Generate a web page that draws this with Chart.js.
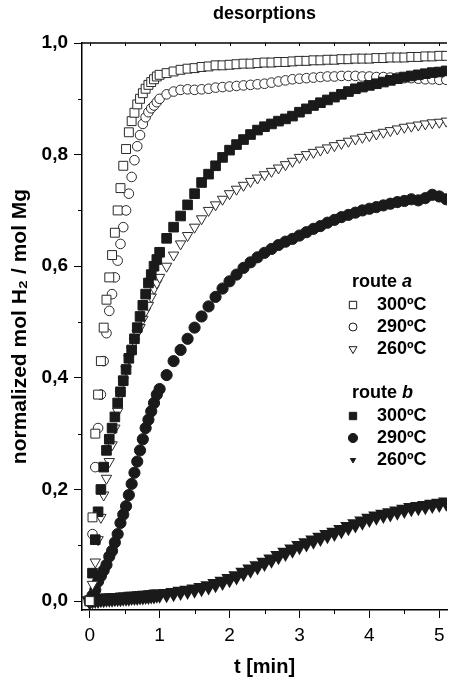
<!DOCTYPE html>
<html>
<head>
<meta charset="utf-8">
<script src="https://cdn.jsdelivr.net/npm/chart.js@4.4.1/dist/chart.umd.min.js"></script>
<style>
  html, body { margin: 0; padding: 0; background: #fff; }
  canvas { display: block; }
</style>
</head>
<body>
<canvas id="chart" width="457" height="679"></canvas>
<script>
// time in minutes (denser sampling during the fast first minute)
const time = [0, 0.04, 0.08, 0.12, 0.16, 0.2, 0.24, 0.28, 0.32, 0.36, 0.4, 0.44, 0.48, 0.52, 0.56, 0.6, 0.64, 0.68, 0.72, 0.76, 0.8, 0.84, 0.88, 0.92, 0.96, 1.0,
  1.1, 1.2, 1.3, 1.4, 1.5, 1.6, 1.7, 1.8, 1.9, 2.0,
  2.1, 2.2, 2.3, 2.4, 2.5, 2.6, 2.7, 2.8, 2.9, 3.0,
  3.1, 3.2, 3.3, 3.4, 3.5, 3.6, 3.7, 3.8, 3.9, 4.0,
  4.1, 4.2, 4.3, 4.4, 4.5, 4.6, 4.7, 4.8, 4.9, 5.0, 5.1];

const routeA300 = [0, 0.15, 0.30, 0.37, 0.43, 0.49, 0.54, 0.58, 0.62, 0.66, 0.70, 0.74, 0.78, 0.81, 0.84, 0.86, 0.875, 0.89, 0.90, 0.91, 0.918, 0.925, 0.93, 0.935, 0.94, 0.943,
  0.946, 0.949, 0.952, 0.954, 0.955, 0.957, 0.958, 0.96, 0.96, 0.961,
  0.962, 0.963, 0.963, 0.964, 0.965, 0.965, 0.966, 0.966, 0.967, 0.968,
  0.968, 0.969, 0.969, 0.97, 0.97, 0.971, 0.971, 0.972, 0.972, 0.972,
  0.973, 0.973, 0.974, 0.974, 0.974, 0.975, 0.975, 0.976, 0.976, 0.977, 0.977];
const routeA290 = [0, 0.12, 0.24, 0.31, 0.37, 0.43, 0.48, 0.52, 0.55, 0.58, 0.61, 0.64, 0.67, 0.70, 0.73, 0.76, 0.79, 0.815, 0.835, 0.855, 0.867, 0.876, 0.883, 0.888, 0.894, 0.90,
  0.908, 0.913, 0.916, 0.917, 0.916, 0.917, 0.918, 0.92, 0.921, 0.922,
  0.923, 0.924, 0.925, 0.926, 0.927, 0.929, 0.931, 0.933, 0.935, 0.936,
  0.937, 0.938, 0.939, 0.94, 0.94, 0.941, 0.941, 0.941, 0.94, 0.94,
  0.939, 0.939, 0.938, 0.938, 0.937, 0.937, 0.936, 0.935, 0.935, 0.934, 0.934];
const routeA260 = [0, 0.03, 0.07, 0.11, 0.15, 0.19, 0.22, 0.25, 0.28, 0.31, 0.34, 0.37, 0.395, 0.415, 0.435, 0.45, 0.465, 0.48, 0.49, 0.505, 0.52, 0.53, 0.545, 0.56, 0.57, 0.58,
  0.60, 0.62, 0.64, 0.655, 0.67, 0.685, 0.70, 0.71, 0.72, 0.73,
  0.738, 0.745, 0.752, 0.758, 0.764, 0.77, 0.776, 0.782, 0.788, 0.795,
  0.80, 0.804, 0.808, 0.812, 0.816, 0.82, 0.824, 0.828, 0.831, 0.834,
  0.837, 0.84, 0.843, 0.846, 0.849, 0.851, 0.853, 0.855, 0.857, 0.858, 0.86];
const routeB300 = [0, 0.05, 0.11, 0.16, 0.20, 0.24, 0.27, 0.29, 0.31, 0.33, 0.355, 0.375, 0.395, 0.415, 0.435, 0.45, 0.47, 0.49, 0.51, 0.53, 0.55, 0.57, 0.585, 0.60, 0.612, 0.625,
  0.65, 0.67, 0.69, 0.71, 0.73, 0.75, 0.765, 0.78, 0.795, 0.808,
  0.818, 0.827, 0.836, 0.844, 0.85, 0.855, 0.86, 0.864, 0.869, 0.876,
  0.882, 0.888, 0.893, 0.898, 0.903, 0.908, 0.913, 0.918, 0.921, 0.924,
  0.927, 0.93, 0.933, 0.936, 0.939, 0.941, 0.943, 0.945, 0.947, 0.948, 0.95];
const routeB290 = [0, 0.01, 0.02, 0.035, 0.045, 0.055, 0.065, 0.08, 0.09, 0.105, 0.12, 0.14, 0.155, 0.17, 0.19, 0.21, 0.23, 0.25, 0.27, 0.29, 0.31, 0.325, 0.34, 0.355, 0.37, 0.38,
  0.405, 0.43, 0.45, 0.47, 0.49, 0.51, 0.528, 0.545, 0.56, 0.573,
  0.585, 0.597, 0.607, 0.616, 0.624, 0.631, 0.638, 0.644, 0.649, 0.655,
  0.661, 0.667, 0.672, 0.678, 0.683, 0.688, 0.692, 0.696, 0.70, 0.703,
  0.706, 0.709, 0.712, 0.715, 0.717, 0.72, 0.718, 0.722, 0.728, 0.725, 0.72];
const routeB260 = [0, 0.002, 0.003, 0.003, 0.004, 0.004, 0.005, 0.005, 0.005, 0.006, 0.006, 0.006, 0.007, 0.007, 0.007, 0.008, 0.008, 0.008, 0.009, 0.009, 0.01, 0.01, 0.011, 0.011, 0.012, 0.012,
  0.013, 0.015, 0.017, 0.019, 0.021, 0.024, 0.027, 0.031, 0.035, 0.04,
  0.045, 0.051, 0.057, 0.063, 0.069, 0.075, 0.081, 0.087, 0.093, 0.099,
  0.104, 0.109, 0.114, 0.119, 0.123, 0.128, 0.133, 0.138, 0.143, 0.148,
  0.152, 0.155, 0.158, 0.161, 0.164, 0.167, 0.169, 0.171, 0.173, 0.175, 0.177];

const xTicks = [0, 0.5, 1, 1.5, 2, 2.5, 3, 3.5, 4, 4.5, 5];
const yTicks = [0, 0.1, 0.2, 0.3, 0.4, 0.5, 0.6, 0.7, 0.8, 0.9, 1.0];
const routeNames = ['a', 'b'];
const tempLabels = ['300ºC', '290ºC', '260ºC'];

const FONT = "'Liberation Sans', Arial, sans-serif";
const INK = '#1a1a1a';

function pts(vals) {
  return time.map((t, i) => ({ x: t, y: vals[i] }));
}

const isMajorY = v => Math.round(v * 10) % 2 === 0;

// draws a legend marker like the chart points
function marker(ctx, style, x, y, r, filled) {
  ctx.beginPath();
  if (style === 'rect') {
    const s = r * Math.SQRT1_2;
    ctx.rect(x - s, y - s, 2 * s, 2 * s);
  } else if (style === 'circle') {
    ctx.arc(x, y, r, 0, Math.PI * 2);
  } else {
    ctx.moveTo(x - r * 0.87, y - r * 0.5);
    ctx.lineTo(x + r * 0.87, y - r * 0.5);
    ctx.lineTo(x, y + r);
    ctx.closePath();
  }
  ctx.fillStyle = filled ? INK : '#fff';
  ctx.fill();
  ctx.lineWidth = 1;
  ctx.strokeStyle = INK;
  ctx.stroke();
}

const extras = {
  id: 'extras',
  afterDraw(chart) {
    const { ctx, chartArea: a, scales: { x, y } } = chart;
    ctx.save();

    // top frame + small inward ticks
    ctx.strokeStyle = '#000';
    ctx.lineWidth = 1.5;
    ctx.beginPath();
    ctx.moveTo(a.left, a.top);
    ctx.lineTo(a.right, a.top);
    ctx.stroke();

    ctx.lineWidth = 1;
    ctx.beginPath();
    xTicks.forEach(v => {
      const px = Math.round(x.getPixelForValue(v)) + 0.5;
      ctx.moveTo(px, a.top);
      ctx.lineTo(px, a.top + 3);
      if (v % 1 !== 0) {
        ctx.moveTo(px, a.bottom);
        ctx.lineTo(px, a.bottom + 4);
      }
    });
    yTicks.forEach(v => {
      if (isMajorY(v)) return;
      const py = Math.round(y.getPixelForValue(v)) + 0.5;
      ctx.moveTo(a.left, py);
      ctx.lineTo(a.left - 4, py);
    });
    ctx.stroke();

    // title
    ctx.fillStyle = '#000';
    ctx.textAlign = 'center';
    ctx.textBaseline = 'middle';
    ctx.font = 'bold 18px ' + FONT;
    ctx.fillText('desorptions', (a.left + a.right) / 2, 14);

    // legend
    const styles = [
      [['rect', 5.2], ['circle', 4], ['triangle', 4.6]],
      [['rect', 5.2], ['circle', 4.6], ['triangle', 3]]
    ];
    const groupTop = [282, 393];
    ctx.textAlign = 'left';
    routeNames.forEach((name, g) => {
      const gy = groupTop[g];
      ctx.font = 'bold 18px ' + FONT;
      ctx.fillStyle = '#000';
      ctx.fillText('route ', 352, gy);
      const w = ctx.measureText('route ').width;
      ctx.font = 'italic bold 18px ' + FONT;
      ctx.fillText(name, 352 + w, gy);
      tempLabels.forEach((lab, i) => {
        const ly = gy + 23 + i * 22;
        const [st, r] = styles[g][i];
        marker(ctx, st, 353, ly, r, g === 1);
        ctx.font = 'bold 18px ' + FONT;
        ctx.fillStyle = '#000';
        ctx.fillText(lab, 377, ly);
      });
    });
    ctx.restore();
  }
};

const openPt = { backgroundColor: '#fff', borderColor: '#2a2a2a', borderWidth: 1 };
const fillPt = { backgroundColor: INK, borderColor: INK, borderWidth: 1 };

new Chart(document.getElementById('chart'), {
  type: 'scatter',
  data: {
    datasets: [
      { label: 'route a 300ºC', data: pts(routeA300), pointStyle: 'rect', pointRadius: 6.3, ...openPt },
      { label: 'route b 300ºC', data: pts(routeB300), pointStyle: 'rect', pointRadius: 6.8, ...fillPt },
      { label: 'route a 290ºC', data: pts(routeA290), pointStyle: 'circle', pointRadius: 4.8, ...openPt },
      { label: 'route a 260ºC', data: pts(routeA260), pointStyle: 'triangle', pointRotation: 180, pointRadius: 6, ...openPt },
      { label: 'route b 290ºC', data: pts(routeB290), pointStyle: 'circle', pointRadius: 5.6, ...fillPt },
      { label: 'route b 260ºC', data: pts(routeB260), pointStyle: 'triangle', pointRotation: 180, pointRadius: 3.5,
        showLine: true, borderWidth: 6, backgroundColor: INK, borderColor: INK }
    ]
  },
  options: {
    responsive: false,
    animation: false,
    devicePixelRatio: 1,
    events: [],
    layout: { padding: { top: 43, left: 0, right: 0, bottom: 0 } },
    plugins: { legend: { display: false }, tooltip: { enabled: false }, title: { display: false } },
    scales: {
      x: {
        type: 'linear',
        min: -0.11,
        max: 5.11,
        afterBuildTicks: s => { s.ticks = xTicks.map(v => ({ value: v })); },
        afterFit: s => { s.height = 69; },
        border: { display: true, color: '#000', width: 1.5 },
        grid: {
          drawOnChartArea: false,
          tickLength: 8,
          tickColor: c => (c.tick && c.tick.value % 1 === 0) ? '#000' : 'rgba(0,0,0,0)'
        },
        ticks: {
          padding: 6,
          color: '#000',
          font: { family: FONT, size: 19 },
          maxRotation: 0,
          autoSkip: false,
          callback: v => (v % 1 === 0 ? String(v) : '')
        },
        title: {
          display: true,
          text: 't [min]',
          color: '#000',
          font: { family: FONT, size: 20, weight: 'bold' },
          padding: { top: 0, bottom: 0 }
        }
      },
      y: {
        min: -0.016,
        max: 1.0,
        afterBuildTicks: s => { s.ticks = yTicks.map(v => ({ value: v })); },
        afterFit: s => { s.width = 82; },
        border: { display: true, color: '#000', width: 1.5 },
        grid: {
          drawOnChartArea: false,
          tickLength: 8,
          tickColor: c => (c.tick && isMajorY(c.tick.value)) ? '#000' : 'rgba(0,0,0,0)'
        },
        ticks: {
          padding: 6,
          color: '#000',
          font: { family: FONT, size: 19, weight: 'bold' },
          autoSkip: false,
          callback: v => (isMajorY(v) ? v.toFixed(1).replace('.', ',') : '')
        },
        title: {
          display: true,
          text: 'normalized mol H₂ / mol Mg',
          color: '#000',
          font: { family: FONT, size: 21, weight: 'bold' },
          padding: { top: 8, bottom: 0 }
        }
      }
    }
  },
  plugins: [extras]
});
</script>
</body>
</html>
